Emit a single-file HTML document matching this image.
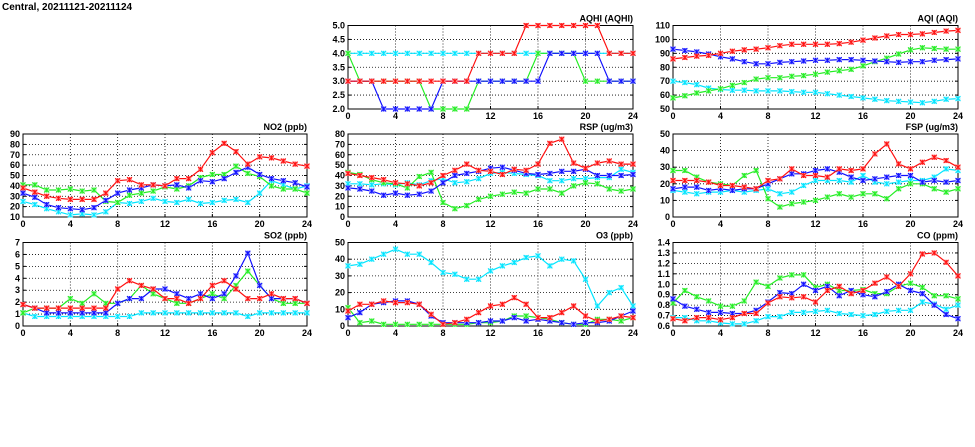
<!DOCTYPE html>
<html><head><meta charset="utf-8">
<style>
html,body{margin:0;padding:0;background:#fff;width:975px;height:447px;overflow:hidden}
svg{display:block}
text{font-family:"Liberation Sans",sans-serif;font-weight:bold;font-size:9px;fill:#000}
</style></head>
<body>
<svg id="chart" width="975" height="447">
<text x="2" y="10" style="font-size:10px">Central, 20211121-20211124</text>
</svg>
<script>
const hours = [0,1,2,3,4,5,6,7,8,9,10,11,12,13,14,15,16,17,18,19,20,21,22,23,24];
const xTicks = [0,4,8,12,16,20,24];

const aqhiRed   = [3,3,3,3,3,3,3,3,3,3,3,4,4,4,4,5,5,5,5,5,5,5,4,4,4];
const aqhiGreen = [4,3,3,3,3,3,3,2,2,2,2,3,3,3,3,3,4,4,4,4,3,3,3,3,3];
const aqhiBlue  = [3,3,3,2,2,2,2,2,3,3,3,3,3,3,3,3,3,4,4,4,4,4,3,3,3];
const aqhiCyan  = [4,4,4,4,4,4,4,4,4,4,4,4,4,4,4,4,4,4,4,4,4,4,4,4,4];

const aqiRed   = [86,87,88,88.5,90,91.5,92.5,93,94,95.5,96.5,96.5,96.5,96.5,97,98,99.5,101,102.5,103.5,103.5,104,105,106,106.5];
const aqiBlue  = [93,92,91,89.5,87.5,86,84,82.5,82.5,83.5,84,84.5,85,85,85.5,85.5,85,84.5,84,83.5,84,84,85,85.5,86];
const aqiGreen = [58,59.5,61.5,63,64.5,67,69,71.5,72.5,72.5,73.5,74,75,76.5,77.5,78.5,81,84,86.5,89.5,92.5,94,93.5,93,93];
const aqiCyan  = [70,69,67.5,65,64,63.5,63.5,63,63,63,62.5,62,62,61,60,59,58,57,56,55.5,55,54.5,55.5,57,57.5];

const no2Red   = [38,34,30,28,27,27,27,33,45,46,41,41,40,47,47,56,72,81,73,61,68,67,64,61,59];
const no2Blue  = [33,29,22,19,18,17,19,26,33,36,38,41,40,41,38,45,44,47,53,58,51,47,45,43,39];
const no2Green = [41,41,36,36,37,35,36,25,24,31,33,35,39,37,40,48,51,51,59,52,49,40,37,37,33];
const no2Cyan  = [25,22,18,15,12,13,12,15,24,23,25,28,25,24,27,23,24,26,27,24,33,45,41,37,40];

const rspRed   = [42,40,38,36,33,32,30,33,40,45,51,45,44,41,46,45,51,71,75,52,47,52,54,51,51];
const rspBlue  = [28,27,25,21,23,21,22,25,33,40,42,44,47,48,45,42,41,42,44,44,46,40,40,40,41];
const rspGreen = [43,41,36,33,32,28,39,43,14,8,11,17,20,22,24,23,27,27,23,30,33,32,27,25,27];
const rspCyan  = [32,32,31,32,31,33,31,35,37,33,34,37,42,43,42,41,40,35,35,37,37,38,38,46,43];

const fspRed   = [22,22,22,21,19,19,18,17,22,23,29,25,25,24,29,28,29,38,44,32,29,33,36,34,30];
const fspBlue  = [17,18,18,16,17,16,17,17,20,23,26,26,28,29,27,24,22,23,24,25,25,21,22,21,22];
const fspGreen = [28,28,24,21,20,19,25,28,11,6,8,9,10,12,14,12,14,14,11,17,20,20,17,15,17];
const fspCyan  = [16,15,14,15,15,16,15,16,17,14,15,19,22,22,22,21,25,21,20,21,22,22,24,29,28];

const so2Red   = [1.8,1.5,1.5,1.5,1.5,1.5,1.5,1.5,3.1,3.8,3.4,3.1,2.3,2.3,1.9,2.3,3.4,3.8,3.1,2.3,2.3,2.7,2.3,2.3,1.9];
const so2Blue  = [1.8,1.5,1.1,1.1,1.1,1.1,1.1,1.1,1.9,2.3,2.3,3.1,3.1,2.7,2.3,2.7,2.3,2.7,4.2,6.1,3.4,2.3,2.3,2.3,1.9];
const so2Green = [1.1,1.5,1.5,1.5,2.3,1.9,2.7,1.9,1.9,2.3,3.4,2.7,2.3,1.9,1.9,2.3,2.7,2.3,3.4,4.6,3.4,2.3,1.9,1.9,1.9];
const so2Cyan  = [1.1,0.8,0.8,0.8,0.8,0.8,0.8,0.8,0.8,0.8,1.1,1.1,1.1,1.1,1.1,1.1,1.1,1.1,1.1,0.8,1.1,1.1,1.1,1.1,1.1];

const o3Red   = [9,13,13,15,14,14,13,7,1,2,4,8,12,13,17,13,5,5,8,12,6,3,4,6,5];
const o3Blue  = [5,8,13,14,15,15,13,6,2,2,2,2,3,3,5,3,4,3,2,1,2,2,3,6,9];
const o3Green = [11,2,3,1,1,1,1,1,1,1,1,2,2,3,6,6,5,4,2,1,1,4,4,3,5];
const o3Cyan  = [36,37,40,43,46,43,43,38,32,31,28,28,33,36,38,41,42,36,40,39,28,12,20,23,12];

const coRed   = [.67,.65,.68,.68,.66,.68,.72,.72,.82,.88,.87,.88,.83,.94,.98,.91,.94,1.01,1.07,.98,1.10,1.29,1.30,1.21,1.08];
const coBlue  = [.86,.79,.76,.73,.73,.72,.72,.75,.83,.92,.91,1.00,.94,.98,.89,.94,.90,.88,.93,1.00,.94,.91,.80,.71,.67];
const coGreen = [.82,.94,.88,.84,.79,.79,.84,1.02,.98,1.06,1.09,1.09,.97,1.00,.94,.94,.95,.91,.91,.98,1.01,.97,.89,.89,.86];
const coCyan  = [.68,.68,.65,.65,.63,.62,.62,.65,.69,.69,.73,.73,.74,.75,.72,.71,.70,.71,.74,.75,.75,.83,.81,.76,.80];

const aqhiTicks = ["2.0","2.5","3.0","3.5","4.0","4.5","5.0"];
const aqiTicks = ["50","60","70","80","90","100","110"];
const no2Ticks = ["10","20","30","40","50","60","70","80","90"];
const rspTicks = ["0","10","20","30","40","50","60","70","80"];
const fspTicks = ["0","10","20","30","40","50"];
const so2Ticks = ["0","1","2","3","4","5","6","7"];
const o3Ticks = ["0","10","20","30","40","50"];
const coTicks = ["0.6","0.7","0.8","0.9","1.0","1.1","1.2","1.3","1.4"];

const NS = "http://www.w3.org/2000/svg";
const svg = document.getElementById("chart");
const COLORS = {cyan:"#00e5ff",green:"#22ee22",blue:"#1010ff",red:"#ff1010"};
const LIGHT = {cyan:"#a8f4ff",green:"#a8f4a8",blue:"#9c9cff",red:"#ff9c9c"};

function mk(tag, attrs, parent){
  const e = document.createElementNS(NS, tag);
  for (const k in attrs) e.setAttribute(k, attrs[k]);
  (parent||svg).appendChild(e);
  return e;
}

function panel(name, title, L, T, R, B, ticks, series){
  const g = mk("g", {});
  
  
  const ymin = parseFloat(ticks[0]), ymax = parseFloat(ticks[ticks.length-1]);
  const sx = h => L + (R-L) * h / 24;
  const sy = v => B - (B-T) * (v - ymin) / (ymax - ymin);
  // grid
  ticks.forEach((t, i) => {
    const y = sy(parseFloat(t));
    if (i > 0 && i < ticks.length-1) {
      const gl = mk("line", {x1:L, x2:R, y1:y, y2:y, stroke:"#000", "stroke-width":0.8, "stroke-dasharray":"1,2"}, g);
      
      
    }
    mk("line", {x1:L, x2:L+3, y1:y, y2:y, stroke:"#000"}, g);
    mk("line", {x1:R-3, x2:R, y1:y, y2:y, stroke:"#000"}, g);
    const tl = mk("text", {x:L-3, y:y+3, "text-anchor":"end"}, g);
    tl.textContent = t;
    
    
  });
  xTicks.forEach((h, i) => {
    const x = sx(h);
    if (i > 0 && i < xTicks.length-1) {
      const gl = mk("line", {x1:x, x2:x, y1:T, y2:B, stroke:"#000", "stroke-width":0.8, "stroke-dasharray":"1,2"}, g);
      
      
    }
    mk("line", {x1:x, x2:x, y1:B, y2:B-3, stroke:"#000"}, g);
    const tl = mk("text", {x:x, y:B+10, "text-anchor":"middle"}, g);
    tl.textContent = h;
    
    
  });
  const fr = mk("rect", {x:L, y:T, width:R-L, height:B-T, fill:"none", stroke:"#000", "stroke-width":1}, g);
  
  
  const tt = mk("text", {x:R, y:T-4, "text-anchor":"end"}, g);
  tt.textContent = title;
  
  
  // series
  series.forEach(([col, vals]) => {
    const pts = vals.map((v, i) => sx(hours[i]).toFixed(1) + "," + sy(v).toFixed(1)).join(" ");
    const pl = mk("polyline", {points:pts, fill:"none", stroke:COLORS[col], "stroke-width":1.2}, g);
    
    
    vals.forEach((v, i) => {
      const x = sx(hours[i]), y = sy(v);
      const m = mk("g", {}, g);
      
      
      mk("rect", {x:x-2.5, y:y-2.5, width:5, height:5, fill:LIGHT[col]}, m);
      mk("path", {d:`M${x-2.5} ${y-2.5}L${x+2.5} ${y+2.5}M${x-2.5} ${y+2.5}L${x+2.5} ${y-2.5}M${x} ${y-2.5}V${y+2.5}`, stroke:COLORS[col], "stroke-width":1}, m);
    });
  });
}

panel("aqhi","AQHI (AQHI)",348,25.5,633,109,aqhiTicks,[["cyan",aqhiCyan],["green",aqhiGreen],["blue",aqhiBlue],["red",aqhiRed]]);
panel("aqi","AQI (AQI)",673,25.5,958,109,aqiTicks,[["cyan",aqiCyan],["green",aqiGreen],["blue",aqiBlue],["red",aqiRed]]);
panel("no2","NO2 (ppb)",23,134,307,217,no2Ticks,[["cyan",no2Cyan],["green",no2Green],["blue",no2Blue],["red",no2Red]]);
panel("rsp","RSP (ug/m3)",348,134,633,217,rspTicks,[["cyan",rspCyan],["green",rspGreen],["blue",rspBlue],["red",rspRed]]);
panel("fsp","FSP (ug/m3)",673,134,958,217,fspTicks,[["cyan",fspCyan],["green",fspGreen],["blue",fspBlue],["red",fspRed]]);
panel("so2","SO2 (ppb)",23,242.5,307,326,so2Ticks,[["cyan",so2Cyan],["green",so2Green],["blue",so2Blue],["red",so2Red]]);
panel("o3","O3 (ppb)",348,242.5,633,326,o3Ticks,[["cyan",o3Cyan],["green",o3Green],["blue",o3Blue],["red",o3Red]]);
panel("co","CO (ppm)",673,242.5,958,326,coTicks,[["cyan",coCyan],["green",coGreen],["blue",coBlue],["red",coRed]]);
</script>
</body></html>
